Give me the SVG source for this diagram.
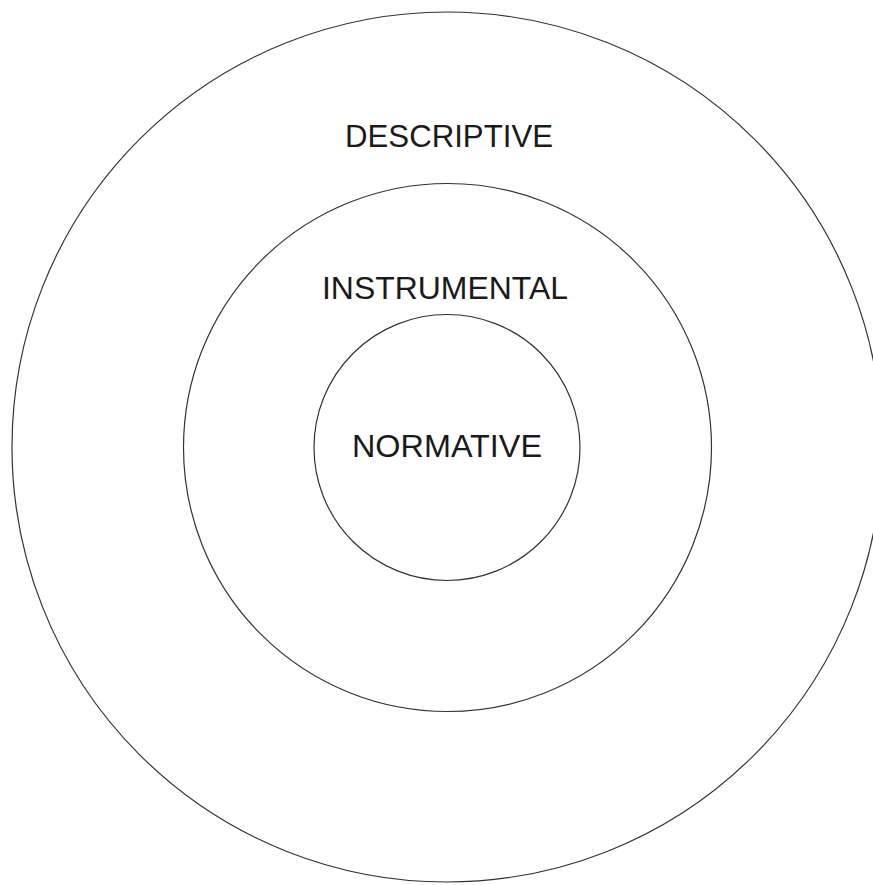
<svg xmlns="http://www.w3.org/2000/svg" width="873" height="885" viewBox="0 0 873 885">
<style>
.ring{fill:none;stroke:#333;stroke-width:1.2}
.lbl{font-family:"Liberation Sans",Arial,sans-serif;font-size:32px;fill:#1a1a1a;text-anchor:middle}
</style>
<rect width="873" height="885" fill="#fff"/>
<g id="descriptive">
<circle class="ring" cx="447" cy="447" r="435"/>
<text class="lbl" x="449" y="147" textLength="208" lengthAdjust="spacingAndGlyphs">DESCRIPTIVE</text>
</g>
<g id="instrumental">
<circle class="ring" cx="447.5" cy="447.5" r="264"/>
<text class="lbl" x="445" y="299" textLength="246" lengthAdjust="spacingAndGlyphs">INSTRUMENTAL</text>
</g>
<g id="normative">
<circle class="ring" cx="447" cy="447.5" r="133"/>
<text class="lbl" x="447" y="457" textLength="190" lengthAdjust="spacingAndGlyphs">NORMATIVE</text>
</g>
<g id="connectors"/>
</svg>
